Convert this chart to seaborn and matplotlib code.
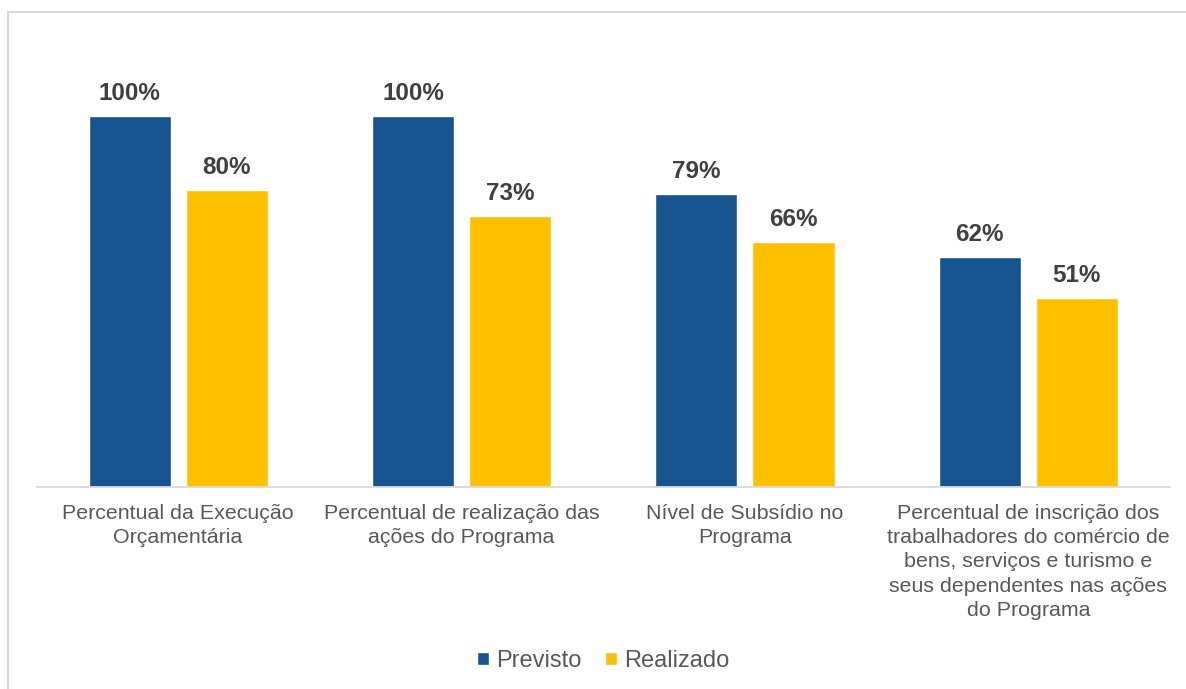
import numpy as np
import pandas as pd
import seaborn as sns
import matplotlib.pyplot as plt
from matplotlib.patches import Rectangle

# data
categories = [
    "Percentual da Execução\nOrçamentária",
    "Percentual de realização das\nações do Programa",
    "Nível de Subsídio no\nPrograma",
    "Percentual de inscrição dos\ntrabalhadores do comércio de\nbens, serviços e turismo e\nseus dependentes nas ações\ndo Programa",
]
series = ["Previsto", "Realizado"]
previsto = [100, 100, 79, 62]
realizado = [80, 73, 66, 51]

df = pd.DataFrame({
    "categoria": categories * 2,
    "serie": [series[0]] * 4 + [series[1]] * 4,
    "valor": previsto + realizado,
})

sns.set_style("white")
plt.rcParams["font.family"] = ["Liberation Sans", "DejaVu Sans"]

W, H = 1186, 689
fig = plt.figure(figsize=(W / 100, H / 100), dpi=100)
ax = fig.add_axes([36.5 / W, (H - 487) / H, (1170 - 36.5) / W, (487 - 12) / H])

sns.barplot(data=df, x="categoria", y="valor", hue="serie",
            palette=["#17548F", "#FFC000"], width=0.686, gap=0.155,
            saturation=1, ax=ax, legend=True)

ax.set_xlim(-0.5, 3.5)
ax.set_ylim(0, 128)
ax.set_xlabel("")
ax.set_ylabel("")
ax.set_yticks([])
sns.despine(ax=ax, left=True, top=True, right=True)
ax.spines["bottom"].set_color("#d9d9d9")
ax.spines["bottom"].set_linewidth(1.3)
ax.tick_params(axis="x", length=0, pad=12, labelsize=15.4, labelcolor="#595959")
for lbl in ax.get_xticklabels():
    lbl.set_linespacing(1.36)

for cont in ax.containers:
    ax.bar_label(cont, labels=[f"{v:.0f}%" for v in cont.datavalues],
                 padding=8, fontsize=17.5, fontweight="bold", color="#404040")

leg = ax.legend(loc="center", bbox_to_anchor=(0.5, (487 - 661) / 475),
                ncol=2, frameon=False, fontsize=17, handlelength=0.5,
                handleheight=0.5, handletextpad=0.3, columnspacing=1.0)
for t in leg.get_texts():
    t.set_color("#595959")

# outer chart frame
fig.patches.append(Rectangle((8 / W, -0.05), 1.1, (H - 12) / H + 0.05,
                             transform=fig.transFigure, fill=False,
                             edgecolor="#d9d9d9", linewidth=1.5))

plt.savefig("out.png", dpi=100)
plt.close()
